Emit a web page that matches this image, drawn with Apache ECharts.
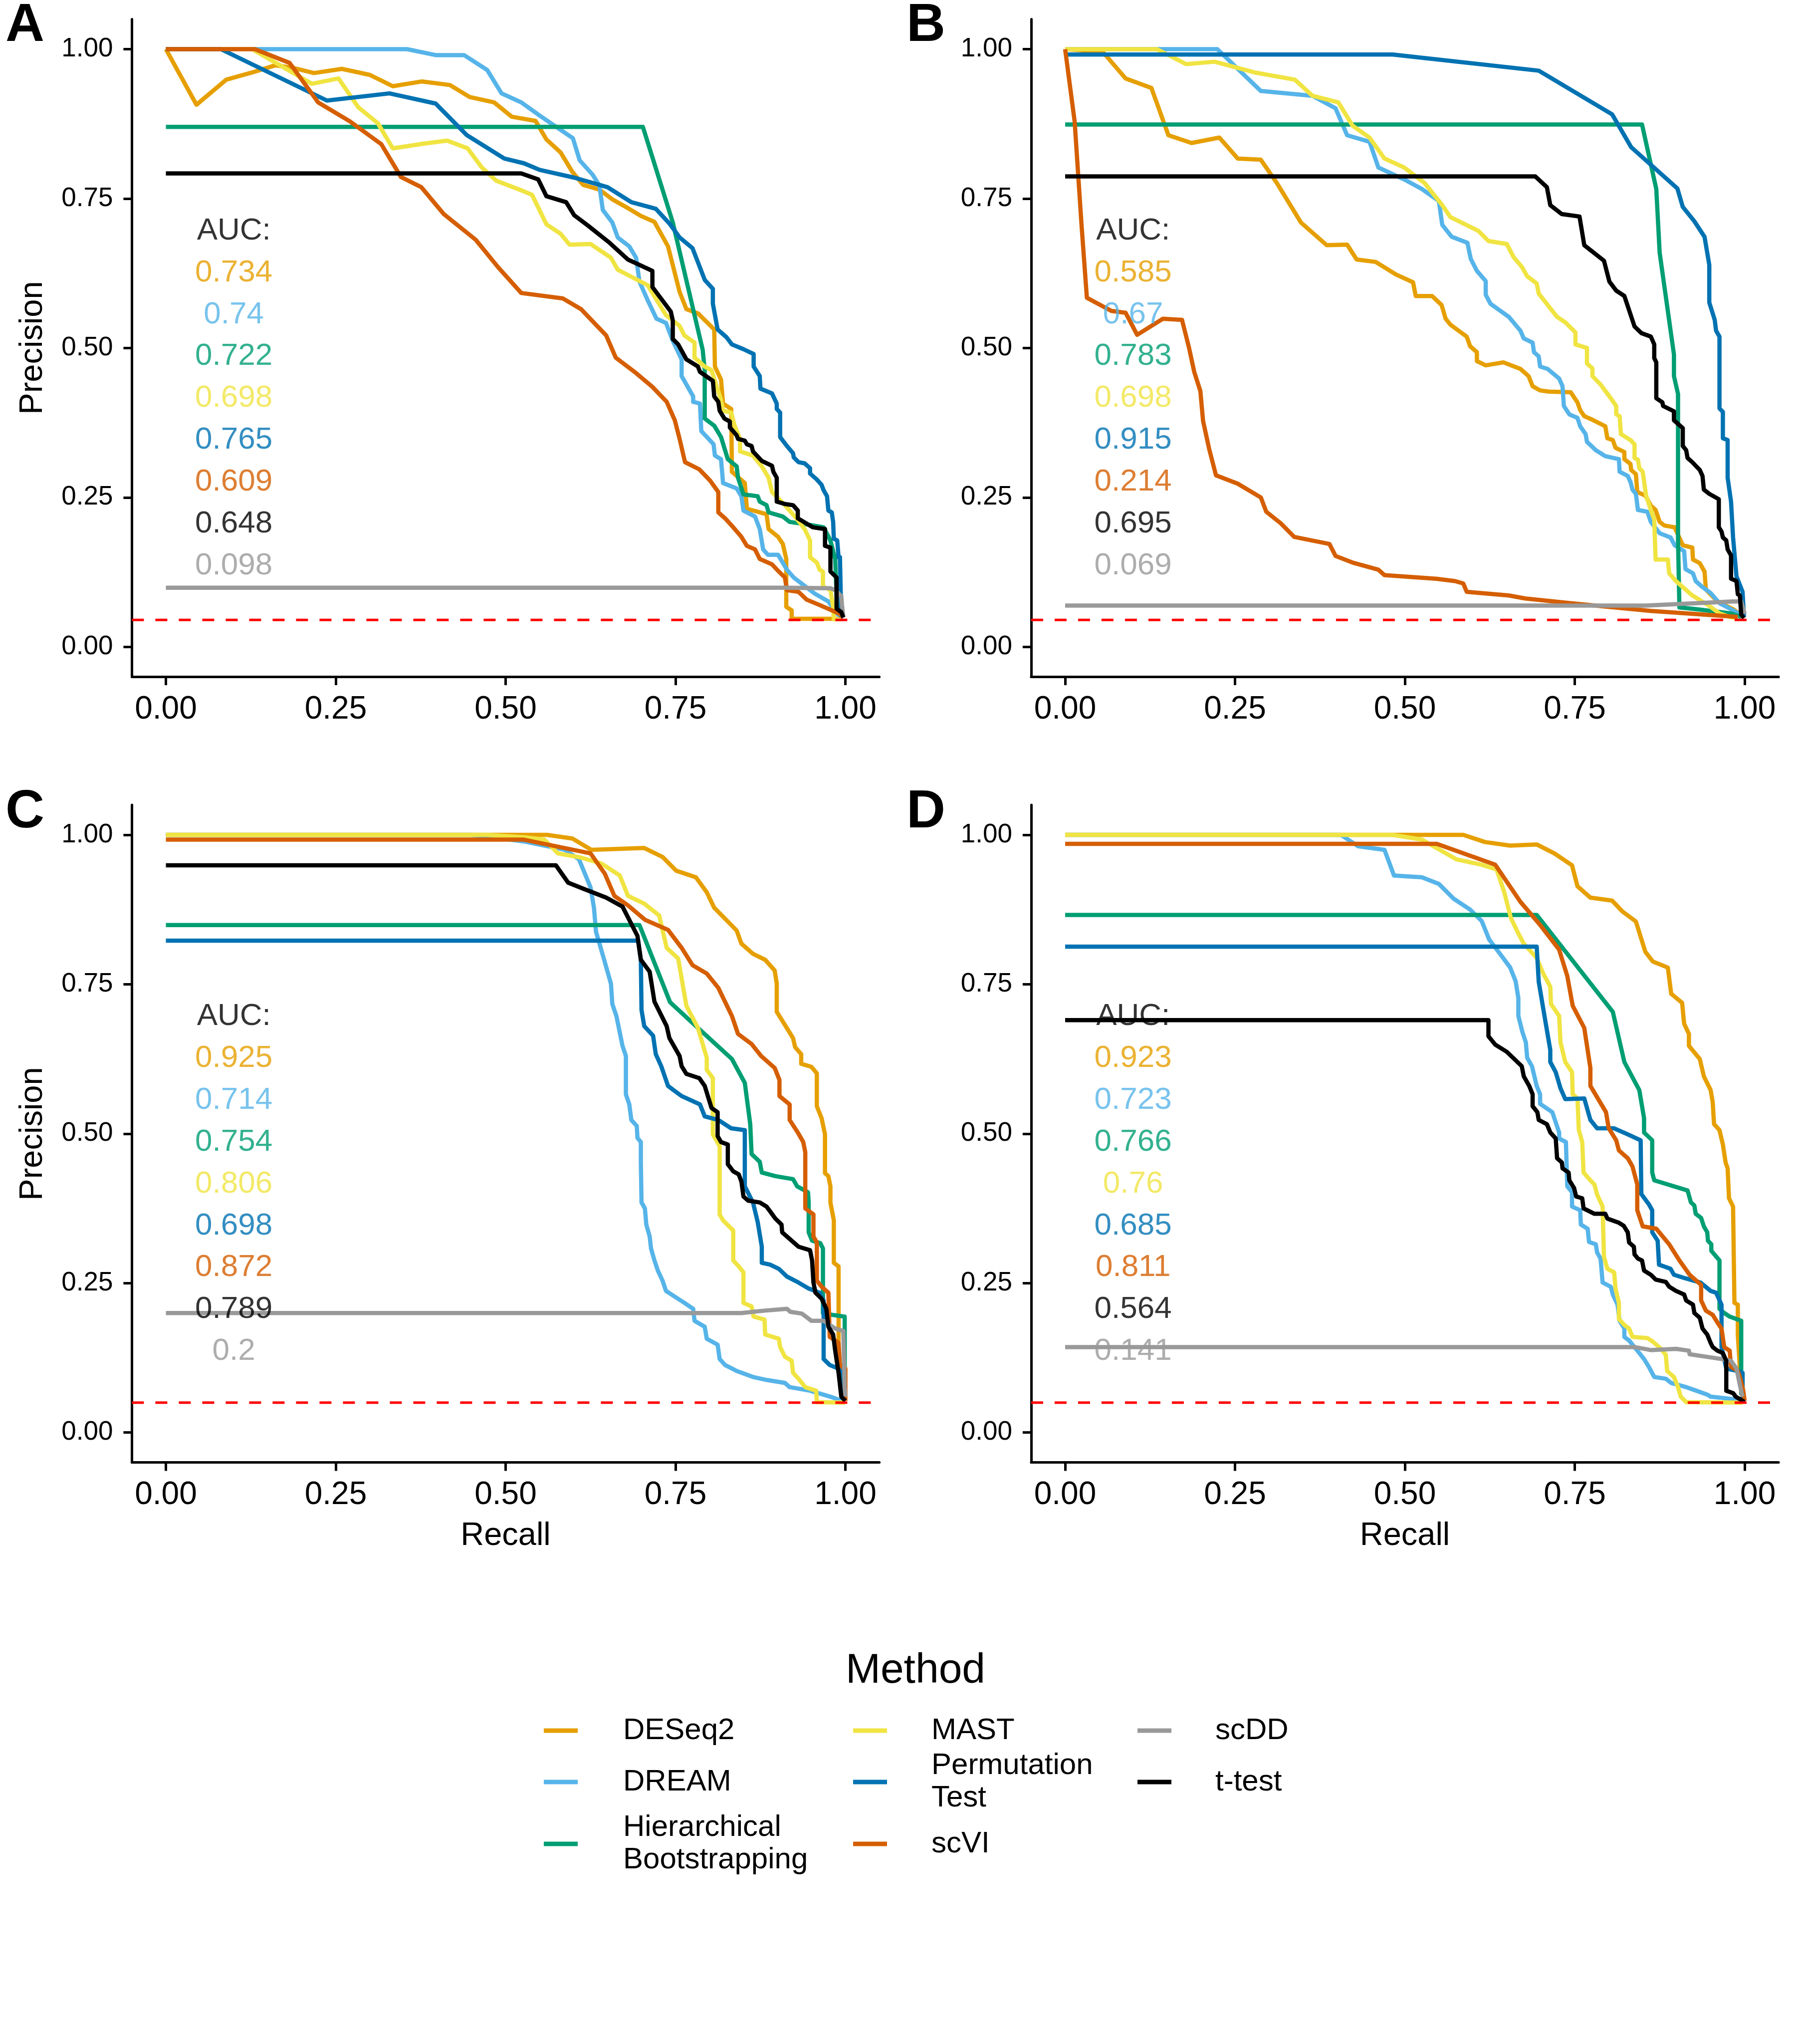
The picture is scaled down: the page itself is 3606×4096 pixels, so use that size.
<!DOCTYPE html>
<html>
<head>
<meta charset="utf-8">
<script src="https://cdn.jsdelivr.net/npm/echarts@6/dist/echarts.min.js"></script>
<style>
html,body{margin:0;padding:0;background:#fff;}
#chart{width:3606px;height:4096px;}
</style>
</head>
<body>
<div id="chart"></div>
<script>
// ---------------- DATA ----------------
const methods = ['DESeq2','DREAM','Hierarchical Bootstrapping','MAST','Permutation Test','scVI','scDD','t-test'];
const legendLabels = ['DESeq2','DREAM','Hierarchical\nBootstrapping','MAST','Permutation\nTest','scVI','scDD','t-test'];
const colors = ['#E69F00','#56B4E9','#009E73','#F0E442','#0072B2','#D55E00','#999999','#000000'];
const panelLetters = ['A','B','C','D'];
const tickValues = [0, 0.25, 0.5, 0.75, 1];
const baselineA = 0.045, baselineB = 0.045, baselineC = 0.05, baselineD = 0.05;

// AUC labels, listed in the order they are printed; aucMethod gives the method (colour) of each line
const aucMethod = [0, 1, 2, 3, 4, 5, 7, 6];
const aucA = ['0.734','0.74','0.722','0.698','0.765','0.609','0.648','0.098'];
const aucB = ['0.585','0.67','0.783','0.698','0.915','0.214','0.695','0.069'];
const aucC = ['0.925','0.714','0.754','0.806','0.698','0.872','0.789','0.2'];
const aucD = ['0.923','0.723','0.766','0.76','0.685','0.811','0.564','0.141'];

// Panel A
const A_DESeq2 = [[0,1],[0.045,0.907],[0.089,0.949],[0.127,0.961],[0.161,0.973],[0.186,0.969],[0.218,0.960],[0.259,0.967],[0.300,0.957],[0.334,0.938],[0.377,0.946],[0.418,0.940],[0.447,0.920],[0.483,0.911],[0.509,0.887],[0.544,0.880],[0.560,0.849],[0.581,0.827],[0.598,0.795],[0.614,0.773],[0.638,0.765],[0.658,0.748],[0.680,0.734],[0.699,0.721],[0.719,0.711],[0.739,0.670],[0.756,0.594],[0.766,0.565],[0.783,0.558],[0.807,0.531],[0.808,0.469],[0.817,0.447],[0.820,0.407],[0.832,0.398],[0.833,0.293],[0.852,0.274],[0.855,0.231],[0.884,0.222],[0.887,0.197],[0.901,0.184],[0.908,0.172],[0.913,0.147],[0.913,0.067],[0.921,0.061],[0.921,0.047],[0.988,0.047],[0.995,0.049]];
const A_DREAM = [[0,1],[0.355,1],[0.397,0.990],[0.439,0.990],[0.473,0.965],[0.494,0.926],[0.523,0.911],[0.550,0.889],[0.599,0.851],[0.609,0.814],[0.628,0.790],[0.638,0.772],[0.643,0.731],[0.657,0.710],[0.665,0.685],[0.682,0.670],[0.692,0.651],[0.697,0.611],[0.709,0.580],[0.722,0.549],[0.736,0.542],[0.746,0.512],[0.759,0.481],[0.759,0.453],[0.776,0.419],[0.776,0.410],[0.786,0.407],[0.788,0.361],[0.806,0.339],[0.808,0.320],[0.817,0.314],[0.820,0.274],[0.840,0.265],[0.847,0.252],[0.850,0.228],[0.867,0.218],[0.874,0.197],[0.879,0.163],[0.886,0.154],[0.901,0.154],[0.914,0.129],[0.924,0.116],[0.955,0.089],[0.975,0.076],[0.988,0.055],[0.997,0.049]];
const A_Hier = [[0,0.870],[0.702,0.870],[0.746,0.710],[0.790,0.497],[0.793,0.463],[0.793,0.382],[0.807,0.370],[0.817,0.351],[0.827,0.314],[0.840,0.302],[0.842,0.283],[0.850,0.255],[0.871,0.252],[0.874,0.243],[0.884,0.237],[0.887,0.225],[0.908,0.218],[0.918,0.209],[0.948,0.204],[0.968,0.200],[0.978,0.178],[0.985,0.147],[0.988,0.061],[0.997,0.052]];
const A_MAST = [[0,1],[0.127,1],[0.215,0.942],[0.254,0.951],[0.283,0.903],[0.312,0.876],[0.334,0.834],[0.380,0.842],[0.414,0.847],[0.444,0.834],[0.465,0.802],[0.486,0.780],[0.527,0.762],[0.539,0.756],[0.560,0.707],[0.581,0.691],[0.594,0.673],[0.625,0.674],[0.655,0.651],[0.665,0.631],[0.709,0.605],[0.736,0.555],[0.756,0.537],[0.763,0.521],[0.778,0.509],[0.778,0.484],[0.793,0.469],[0.803,0.463],[0.817,0.413],[0.820,0.395],[0.832,0.392],[0.837,0.370],[0.845,0.348],[0.845,0.327],[0.864,0.320],[0.877,0.302],[0.887,0.283],[0.892,0.259],[0.911,0.237],[0.928,0.215],[0.940,0.197],[0.948,0.178],[0.948,0.150],[0.958,0.141],[0.962,0.129],[0.967,0.126],[0.967,0.101],[0.978,0.095],[0.982,0.067],[0.983,0.046],[0.994,0.046]];
const A_Perm = [[0,1],[0.081,1],[0.237,0.914],[0.329,0.926],[0.397,0.909],[0.443,0.856],[0.498,0.817],[0.527,0.809],[0.550,0.798],[0.601,0.785],[0.650,0.769],[0.685,0.744],[0.721,0.733],[0.742,0.707],[0.756,0.685],[0.775,0.667],[0.793,0.614],[0.805,0.599],[0.805,0.574],[0.812,0.531],[0.825,0.518],[0.833,0.506],[0.850,0.498],[0.865,0.490],[0.865,0.469],[0.874,0.453],[0.875,0.432],[0.892,0.424],[0.899,0.407],[0.899,0.398],[0.904,0.392],[0.904,0.351],[0.914,0.336],[0.923,0.324],[0.924,0.317],[0.931,0.309],[0.940,0.307],[0.948,0.299],[0.948,0.290],[0.958,0.280],[0.965,0.271],[0.968,0.262],[0.973,0.252],[0.975,0.228],[0.980,0.225],[0.982,0.209],[0.983,0.181],[0.988,0.178],[0.990,0.150],[0.992,0.150],[0.994,0.049]];
const A_scVI = [[0,1],[0.131,1],[0.182,0.977],[0.224,0.911],[0.271,0.879],[0.317,0.841],[0.346,0.786],[0.376,0.769],[0.409,0.724],[0.456,0.681],[0.489,0.635],[0.523,0.592],[0.584,0.583],[0.611,0.565],[0.648,0.521],[0.662,0.484],[0.692,0.458],[0.716,0.435],[0.737,0.410],[0.749,0.379],[0.756,0.348],[0.764,0.309],[0.785,0.297],[0.801,0.278],[0.813,0.259],[0.813,0.225],[0.823,0.215],[0.835,0.200],[0.847,0.184],[0.855,0.169],[0.867,0.163],[0.874,0.147],[0.892,0.138],[0.902,0.126],[0.911,0.116],[0.914,0.095],[0.931,0.092],[0.943,0.079],[0.962,0.070],[0.978,0.062],[0.992,0.055],[0.997,0.049]];
const A_scDD = [[0,0.099],[0.91,0.099],[0.978,0.098],[0.985,0.095],[0.994,0.085],[0.995,0.07],[0.997,0.05]];
const A_ttest = [[0,0.792],[0.523,0.792],[0.548,0.782],[0.560,0.754],[0.589,0.744],[0.601,0.722],[0.621,0.705],[0.653,0.676],[0.680,0.648],[0.716,0.629],[0.716,0.602],[0.743,0.561],[0.746,0.546],[0.746,0.515],[0.754,0.506],[0.766,0.481],[0.783,0.469],[0.786,0.460],[0.805,0.445],[0.807,0.419],[0.813,0.410],[0.815,0.395],[0.822,0.382],[0.830,0.377],[0.830,0.367],[0.840,0.354],[0.842,0.348],[0.852,0.345],[0.855,0.339],[0.862,0.336],[0.864,0.327],[0.877,0.311],[0.892,0.303],[0.894,0.293],[0.899,0.283],[0.899,0.243],[0.911,0.239],[0.923,0.237],[0.930,0.228],[0.930,0.215],[0.952,0.200],[0.970,0.197],[0.970,0.169],[0.978,0.166],[0.978,0.126],[0.987,0.116],[0.987,0.064],[0.994,0.058],[0.997,0.049]];

// Panel B
const B_DESeq2 = [[0,1],[0.055,0.996],[0.089,0.951],[0.127,0.935],[0.152,0.856],[0.186,0.843],[0.227,0.852],[0.254,0.817],[0.288,0.815],[0.311,0.777],[0.347,0.710],[0.385,0.672],[0.415,0.673],[0.429,0.648],[0.457,0.644],[0.487,0.623],[0.512,0.610],[0.516,0.587],[0.540,0.587],[0.554,0.572],[0.560,0.549],[0.567,0.539],[0.591,0.519],[0.596,0.503],[0.606,0.493],[0.606,0.478],[0.619,0.471],[0.645,0.476],[0.670,0.465],[0.682,0.453],[0.688,0.436],[0.699,0.429],[0.712,0.427],[0.744,0.426],[0.754,0.409],[0.758,0.396],[0.764,0.386],[0.774,0.381],[0.795,0.369],[0.798,0.349],[0.806,0.346],[0.810,0.333],[0.823,0.326],[0.823,0.314],[0.832,0.306],[0.833,0.296],[0.840,0.289],[0.842,0.259],[0.854,0.253],[0.862,0.236],[0.869,0.229],[0.872,0.219],[0.875,0.209],[0.882,0.203],[0.897,0.200],[0.909,0.170],[0.923,0.166],[0.924,0.146],[0.934,0.140],[0.941,0.126],[0.943,0.096],[0.960,0.076],[0.983,0.063],[0.995,0.053]];
const B_DREAM = [[0,1],[0.224,1],[0.288,0.930],[0.364,0.922],[0.398,0.901],[0.415,0.856],[0.448,0.845],[0.461,0.802],[0.499,0.782],[0.525,0.766],[0.550,0.746],[0.555,0.706],[0.569,0.686],[0.592,0.676],[0.597,0.649],[0.606,0.629],[0.619,0.612],[0.619,0.589],[0.626,0.574],[0.653,0.552],[0.670,0.529],[0.675,0.516],[0.688,0.509],[0.690,0.493],[0.697,0.486],[0.699,0.469],[0.710,0.465],[0.727,0.449],[0.732,0.436],[0.734,0.403],[0.742,0.389],[0.754,0.383],[0.758,0.369],[0.766,0.356],[0.768,0.343],[0.781,0.329],[0.795,0.319],[0.815,0.314],[0.816,0.293],[0.828,0.286],[0.832,0.276],[0.835,0.263],[0.840,0.256],[0.843,0.229],[0.857,0.226],[0.862,0.209],[0.875,0.190],[0.891,0.183],[0.897,0.170],[0.911,0.160],[0.913,0.130],[0.924,0.123],[0.928,0.110],[0.938,0.100],[0.950,0.090],[0.963,0.073],[0.980,0.063],[0.995,0.053]];
const B_Hier = [[0,0.874],[0.849,0.874],[0.870,0.766],[0.875,0.659],[0.896,0.489],[0.896,0.453],[0.902,0.423],[0.902,0.179],[0.904,0.066],[0.929,0.063],[0.980,0.056],[0.995,0.050]];
const B_MAST = [[0,1],[0.135,1],[0.178,0.975],[0.220,0.979],[0.279,0.961],[0.338,0.949],[0.364,0.922],[0.402,0.911],[0.423,0.872],[0.448,0.852],[0.470,0.817],[0.499,0.802],[0.529,0.776],[0.555,0.739],[0.567,0.719],[0.608,0.696],[0.623,0.679],[0.650,0.674],[0.660,0.652],[0.672,0.636],[0.680,0.620],[0.694,0.608],[0.697,0.591],[0.724,0.552],[0.736,0.543],[0.751,0.526],[0.751,0.506],[0.768,0.500],[0.768,0.474],[0.776,0.466],[0.776,0.453],[0.788,0.439],[0.801,0.419],[0.811,0.403],[0.811,0.389],[0.816,0.386],[0.818,0.356],[0.832,0.346],[0.838,0.339],[0.838,0.316],[0.843,0.313],[0.845,0.299],[0.850,0.293],[0.855,0.253],[0.862,0.229],[0.867,0.213],[0.869,0.146],[0.887,0.146],[0.889,0.123],[0.899,0.110],[0.909,0.100],[0.923,0.086],[0.946,0.070],[0.963,0.056],[0.978,0.050],[0.990,0.048]];
const B_Perm = [[0,0.991],[0.482,0.991],[0.697,0.964],[0.805,0.891],[0.833,0.836],[0.901,0.767],[0.909,0.736],[0.926,0.712],[0.941,0.686],[0.948,0.639],[0.948,0.576],[0.956,0.547],[0.958,0.529],[0.963,0.519],[0.963,0.399],[0.968,0.393],[0.968,0.349],[0.975,0.346],[0.975,0.283],[0.980,0.243],[0.983,0.183],[0.988,0.118],[0.997,0.092],[0.999,0.050]];
const B_scVI = [[0,1],[0.014,0.879],[0.024,0.708],[0.032,0.584],[0.068,0.562],[0.089,0.559],[0.106,0.522],[0.144,0.549],[0.172,0.547],[0.182,0.502],[0.190,0.460],[0.199,0.428],[0.203,0.378],[0.212,0.331],[0.222,0.287],[0.254,0.273],[0.288,0.250],[0.296,0.226],[0.317,0.207],[0.337,0.184],[0.389,0.172],[0.398,0.152],[0.423,0.141],[0.461,0.129],[0.470,0.120],[0.546,0.114],[0.574,0.110],[0.586,0.106],[0.591,0.092],[0.653,0.086],[0.677,0.081],[0.744,0.073],[0.862,0.060],[0.990,0.050]];
const B_scDD = [[0,0.069],[0.855,0.069],[0.983,0.076],[0.995,0.076],[1.0,0.055]];
const B_ttest = [[0,0.787],[0.692,0.787],[0.709,0.769],[0.714,0.739],[0.731,0.724],[0.757,0.720],[0.764,0.672],[0.793,0.646],[0.801,0.611],[0.811,0.596],[0.823,0.587],[0.838,0.536],[0.848,0.525],[0.862,0.519],[0.867,0.506],[0.867,0.483],[0.870,0.476],[0.870,0.416],[0.879,0.409],[0.880,0.403],[0.896,0.394],[0.896,0.379],[0.909,0.366],[0.909,0.336],[0.914,0.329],[0.916,0.316],[0.923,0.309],[0.928,0.303],[0.934,0.296],[0.938,0.286],[0.940,0.263],[0.948,0.256],[0.962,0.247],[0.962,0.200],[0.966,0.193],[0.968,0.183],[0.973,0.178],[0.975,0.163],[0.980,0.153],[0.980,0.114],[0.988,0.110],[0.990,0.088],[0.993,0.086],[0.995,0.054],[0.999,0.048]];

// Panel C
const C_DESeq2 = [[0,1],[0.561,1],[0.598,0.994],[0.626,0.975],[0.704,0.978],[0.731,0.963],[0.751,0.940],[0.780,0.929],[0.796,0.904],[0.807,0.878],[0.840,0.840],[0.847,0.818],[0.864,0.801],[0.882,0.791],[0.896,0.773],[0.899,0.751],[0.899,0.704],[0.923,0.660],[0.926,0.645],[0.935,0.633],[0.935,0.617],[0.950,0.612],[0.958,0.601],[0.958,0.546],[0.965,0.526],[0.970,0.499],[0.970,0.434],[0.975,0.429],[0.978,0.412],[0.978,0.385],[0.983,0.355],[0.983,0.284],[0.990,0.278],[0.990,0.130],[0.997,0.070],[0.999,0.053]];
const C_DREAM = [[0,1],[0.45,1],[0.50,0.993],[0.527,0.989],[0.587,0.975],[0.608,0.959],[0.625,0.912],[0.630,0.878],[0.633,0.838],[0.645,0.791],[0.655,0.751],[0.657,0.717],[0.663,0.697],[0.672,0.647],[0.677,0.630],[0.677,0.566],[0.682,0.549],[0.685,0.523],[0.693,0.513],[0.694,0.493],[0.699,0.486],[0.699,0.452],[0.700,0.385],[0.705,0.375],[0.707,0.348],[0.712,0.328],[0.714,0.308],[0.719,0.288],[0.724,0.271],[0.731,0.254],[0.736,0.237],[0.744,0.231],[0.763,0.217],[0.776,0.207],[0.778,0.187],[0.793,0.177],[0.796,0.157],[0.812,0.147],[0.815,0.123],[0.823,0.113],[0.840,0.103],[0.864,0.093],[0.884,0.088],[0.911,0.083],[0.918,0.076],[0.948,0.070],[0.978,0.060],[0.995,0.053]];
const C_Hier = [[0,0.849],[0.697,0.849],[0.742,0.720],[0.783,0.677],[0.833,0.625],[0.852,0.585],[0.860,0.516],[0.862,0.466],[0.874,0.453],[0.877,0.435],[0.897,0.429],[0.923,0.424],[0.929,0.412],[0.945,0.402],[0.946,0.385],[0.946,0.335],[0.951,0.321],[0.963,0.317],[0.967,0.308],[0.967,0.200],[0.980,0.197],[0.999,0.194],[0.999,0.056]];
const C_MAST = [[0,1],[0.473,1],[0.527,0.996],[0.557,0.992],[0.577,0.969],[0.611,0.962],[0.641,0.952],[0.668,0.932],[0.680,0.898],[0.704,0.885],[0.726,0.865],[0.737,0.811],[0.754,0.793],[0.766,0.714],[0.783,0.677],[0.796,0.627],[0.796,0.607],[0.805,0.593],[0.805,0.499],[0.815,0.479],[0.815,0.365],[0.820,0.355],[0.835,0.338],[0.835,0.288],[0.843,0.278],[0.850,0.268],[0.850,0.217],[0.862,0.211],[0.865,0.194],[0.881,0.189],[0.882,0.164],[0.902,0.157],[0.904,0.143],[0.911,0.127],[0.921,0.120],[0.923,0.100],[0.931,0.090],[0.941,0.076],[0.957,0.070],[0.958,0.051],[0.999,0.050]];
const C_Perm = [[0,0.823],[0.695,0.823],[0.699,0.791],[0.700,0.707],[0.704,0.680],[0.717,0.664],[0.721,0.633],[0.729,0.613],[0.739,0.580],[0.747,0.573],[0.759,0.563],[0.786,0.549],[0.793,0.529],[0.813,0.523],[0.832,0.509],[0.852,0.506],[0.852,0.412],[0.864,0.385],[0.871,0.352],[0.877,0.311],[0.877,0.284],[0.889,0.281],[0.902,0.274],[0.914,0.261],[0.931,0.251],[0.946,0.241],[0.962,0.234],[0.968,0.221],[0.968,0.123],[0.977,0.113],[0.990,0.107],[0.997,0.097],[0.997,0.056]];
const C_scVI = [[0,0.992],[0.527,0.992],[0.565,0.983],[0.625,0.969],[0.646,0.935],[0.660,0.898],[0.680,0.882],[0.705,0.858],[0.739,0.841],[0.759,0.811],[0.775,0.782],[0.796,0.768],[0.813,0.744],[0.833,0.697],[0.842,0.667],[0.862,0.650],[0.876,0.630],[0.896,0.610],[0.903,0.590],[0.903,0.563],[0.918,0.549],[0.918,0.523],[0.930,0.502],[0.938,0.486],[0.941,0.469],[0.941,0.375],[0.953,0.365],[0.953,0.328],[0.958,0.318],[0.958,0.254],[0.965,0.244],[0.975,0.234],[0.977,0.160],[0.990,0.150],[0.992,0.113],[1.0,0.107],[1.0,0.053]];
const C_scDD = [[0,0.200],[0.847,0.200],[0.881,0.204],[0.914,0.207],[0.919,0.202],[0.936,0.199],[0.950,0.187],[0.968,0.187],[0.985,0.174],[0.997,0.170],[0.999,0.076],[1.0,0.06]];
const C_ttest = [[0,0.949],[0.574,0.949],[0.592,0.920],[0.614,0.910],[0.648,0.895],[0.672,0.880],[0.694,0.831],[0.699,0.791],[0.712,0.771],[0.719,0.721],[0.737,0.680],[0.741,0.660],[0.756,0.630],[0.759,0.613],[0.766,0.600],[0.785,0.593],[0.793,0.580],[0.803,0.543],[0.812,0.536],[0.812,0.496],[0.817,0.486],[0.827,0.482],[0.827,0.449],[0.835,0.437],[0.843,0.432],[0.847,0.420],[0.850,0.395],[0.857,0.388],[0.874,0.385],[0.884,0.378],[0.888,0.372],[0.897,0.358],[0.906,0.348],[0.907,0.335],[0.921,0.321],[0.931,0.311],[0.948,0.305],[0.951,0.288],[0.953,0.251],[0.956,0.234],[0.965,0.224],[0.972,0.207],[0.975,0.177],[0.982,0.164],[0.985,0.137],[0.990,0.100],[0.994,0.060],[1.0,0.053]];

// Panel D
const D_DESeq2 = [[0,1],[0.586,1],[0.618,0.988],[0.655,0.982],[0.694,0.984],[0.720,0.969],[0.746,0.949],[0.754,0.914],[0.773,0.895],[0.805,0.890],[0.820,0.872],[0.840,0.855],[0.854,0.804],[0.865,0.788],[0.887,0.778],[0.892,0.734],[0.908,0.719],[0.911,0.684],[0.918,0.667],[0.918,0.647],[0.934,0.625],[0.940,0.596],[0.950,0.573],[0.953,0.553],[0.955,0.516],[0.963,0.506],[0.968,0.482],[0.972,0.452],[0.975,0.442],[0.977,0.392],[0.983,0.378],[0.985,0.217],[0.990,0.214],[0.990,0.164],[0.995,0.070],[0.998,0.053]];
const D_DREAM = [[0,1],[0.406,1],[0.431,0.981],[0.470,0.975],[0.484,0.932],[0.525,0.929],[0.550,0.918],[0.572,0.893],[0.596,0.875],[0.613,0.856],[0.624,0.825],[0.638,0.804],[0.655,0.778],[0.663,0.755],[0.667,0.727],[0.667,0.697],[0.673,0.670],[0.678,0.653],[0.680,0.627],[0.687,0.613],[0.694,0.580],[0.699,0.566],[0.699,0.550],[0.717,0.536],[0.727,0.502],[0.727,0.492],[0.737,0.486],[0.739,0.412],[0.746,0.402],[0.746,0.378],[0.758,0.372],[0.759,0.348],[0.769,0.341],[0.771,0.319],[0.781,0.315],[0.783,0.301],[0.788,0.291],[0.791,0.251],[0.803,0.244],[0.806,0.231],[0.813,0.214],[0.816,0.187],[0.823,0.174],[0.823,0.160],[0.830,0.154],[0.845,0.133],[0.852,0.123],[0.859,0.110],[0.867,0.093],[0.884,0.090],[0.892,0.083],[0.914,0.076],[0.929,0.070],[0.946,0.063],[0.950,0.060],[0.983,0.056],[0.997,0.053]];
const D_Hier = [[0,0.866],[0.694,0.866],[0.806,0.704],[0.823,0.620],[0.845,0.573],[0.852,0.526],[0.852,0.502],[0.864,0.489],[0.864,0.435],[0.867,0.422],[0.916,0.405],[0.921,0.385],[0.926,0.380],[0.928,0.366],[0.936,0.359],[0.940,0.345],[0.945,0.335],[0.946,0.321],[0.951,0.315],[0.951,0.304],[0.963,0.288],[0.963,0.207],[0.970,0.200],[0.978,0.194],[0.995,0.187],[0.995,0.063]];
const D_MAST = [[0,1],[0.482,1],[0.525,0.992],[0.576,0.959],[0.613,0.950],[0.635,0.942],[0.646,0.905],[0.656,0.861],[0.667,0.835],[0.675,0.818],[0.694,0.794],[0.704,0.767],[0.714,0.746],[0.715,0.717],[0.727,0.697],[0.729,0.653],[0.736,0.620],[0.746,0.603],[0.747,0.566],[0.754,0.559],[0.756,0.506],[0.761,0.486],[0.763,0.435],[0.773,0.422],[0.779,0.415],[0.783,0.398],[0.791,0.378],[0.793,0.294],[0.798,0.274],[0.808,0.268],[0.810,0.241],[0.815,0.217],[0.815,0.190],[0.823,0.180],[0.830,0.174],[0.835,0.160],[0.857,0.158],[0.865,0.152],[0.877,0.140],[0.884,0.130],[0.886,0.103],[0.896,0.093],[0.902,0.076],[0.906,0.060],[0.914,0.051],[0.997,0.050]];
const D_Perm = [[0,0.813],[0.694,0.813],[0.697,0.754],[0.705,0.700],[0.714,0.640],[0.714,0.620],[0.722,0.603],[0.729,0.576],[0.736,0.558],[0.764,0.559],[0.773,0.523],[0.783,0.509],[0.808,0.509],[0.828,0.499],[0.847,0.489],[0.848,0.399],[0.859,0.382],[0.864,0.372],[0.864,0.335],[0.872,0.321],[0.874,0.281],[0.891,0.274],[0.896,0.264],[0.913,0.258],[0.935,0.251],[0.950,0.237],[0.958,0.234],[0.966,0.214],[0.966,0.143],[0.973,0.107],[0.990,0.103],[0.997,0.100],[0.997,0.056]];
const D_scVI = [[0,0.985],[0.547,0.985],[0.633,0.950],[0.670,0.888],[0.700,0.848],[0.727,0.808],[0.739,0.764],[0.747,0.714],[0.764,0.677],[0.773,0.610],[0.773,0.580],[0.796,0.536],[0.800,0.509],[0.811,0.489],[0.815,0.472],[0.828,0.459],[0.835,0.445],[0.842,0.415],[0.842,0.372],[0.850,0.345],[0.870,0.341],[0.889,0.315],[0.904,0.288],[0.919,0.264],[0.936,0.247],[0.936,0.221],[0.943,0.204],[0.953,0.197],[0.960,0.184],[0.966,0.174],[0.970,0.143],[0.978,0.137],[0.980,0.110],[0.990,0.103],[0.993,0.093],[0.998,0.070],[1.0,0.053]];
const D_scDD = [[0,0.143],[0.838,0.143],[0.862,0.138],[0.899,0.140],[0.918,0.137],[0.919,0.131],[0.943,0.127],[0.966,0.123],[0.980,0.120],[0.988,0.107],[0.993,0.080],[0.997,0.060]];
const D_ttest = [[0,0.690],[0.623,0.690],[0.623,0.663],[0.633,0.649],[0.650,0.637],[0.672,0.613],[0.675,0.596],[0.683,0.580],[0.688,0.566],[0.688,0.546],[0.695,0.536],[0.697,0.523],[0.709,0.516],[0.714,0.502],[0.722,0.492],[0.724,0.459],[0.731,0.452],[0.732,0.442],[0.741,0.435],[0.742,0.422],[0.749,0.409],[0.752,0.395],[0.761,0.392],[0.763,0.375],[0.779,0.366],[0.795,0.366],[0.798,0.358],[0.815,0.351],[0.822,0.346],[0.828,0.335],[0.830,0.318],[0.837,0.311],[0.838,0.298],[0.843,0.291],[0.849,0.288],[0.852,0.271],[0.862,0.264],[0.869,0.256],[0.884,0.252],[0.889,0.244],[0.899,0.237],[0.911,0.231],[0.914,0.221],[0.924,0.214],[0.926,0.200],[0.934,0.192],[0.938,0.174],[0.945,0.164],[0.950,0.150],[0.953,0.143],[0.960,0.137],[0.968,0.133],[0.973,0.120],[0.973,0.070],[0.983,0.066],[0.987,0.060],[0.997,0.053],[1.0,0.051]];

// ---------------- LAYOUT ----------------
const FONT = '"Liberation Sans", Arial, Helvetica, sans-serif';
const panels = [
  {curves:[A_DESeq2,A_DREAM,A_Hier,A_MAST,A_Perm,A_scVI,A_scDD,A_ttest], auc:aucA, base:baselineA},
  {curves:[B_DESeq2,B_DREAM,B_Hier,B_MAST,B_Perm,B_scVI,B_scDD,B_ttest], auc:aucB, base:baselineB},
  {curves:[C_DESeq2,C_DREAM,C_Hier,C_MAST,C_Perm,C_scVI,C_scDD,C_ttest], auc:aucC, base:baselineC},
  {curves:[D_DESeq2,D_DREAM,D_Hier,D_MAST,D_Perm,D_scVI,D_scDD,D_ttest], auc:aucD, base:baselineD}
];
const gridLeft = [264.4, 2066.9, 264.4, 2066.9];
const gridTop = [38.6, 38.6, 1613.1, 1613.1];
const gridW = 1498.2, gridH = 1317.5;
const AXIS_MIN = -0.05, AXIS_MAX = 1.05;
const AUC_X = 0.1, AUC_Y0 = 0.7, AUC_STEP = 0.07;

const grids = [], xAxes = [], yAxes = [], series = [];
panels.forEach((p, i) => {
  grids.push({left: gridLeft[i], top: gridTop[i], width: gridW, height: gridH, containLabel: false});
  xAxes.push({
    type: 'value', gridIndex: i, min: AXIS_MIN, max: AXIS_MAX,
    axisLine: {show: true, onZero: false, lineStyle: {color: '#000', width: 5}},
    axisTick: {show: true, length: 17, customValues: tickValues, lineStyle: {color: '#000', width: 5}},
    axisLabel: {show: true, customValues: tickValues, formatter: v => Number(v).toFixed(2),
      fontSize: 64, color: '#000', fontFamily: FONT, margin: 34},
    splitLine: {show: false}
  });
  yAxes.push({
    type: 'value', gridIndex: i, min: AXIS_MIN, max: AXIS_MAX,
    axisLine: {show: true, onZero: false, lineStyle: {color: '#000', width: 5}},
    axisTick: {show: true, length: 17, customValues: tickValues, lineStyle: {color: '#000', width: 5}},
    axisLabel: {show: true, customValues: tickValues, formatter: v => Number(v).toFixed(2),
      fontSize: 53, color: '#000', fontFamily: FONT, margin: 38},
    splitLine: {show: false}
  });
  p.curves.forEach((c, k) => {
    series.push({
      type: 'line', name: methods[k], xAxisIndex: i, yAxisIndex: i,
      data: c, showSymbol: false, symbol: 'none', smooth: false, silent: true,
      lineStyle: {color: colors[k], width: 8.5, join: 'round', cap: 'butt'},
      itemStyle: {color: colors[k]}, z: 2 + k * 0.01
    });
  });
  // dashed baseline (proportion of true DE genes), drawn across the full x range
  series.push({
    type: 'line', name: 'baseline', xAxisIndex: i, yAxisIndex: i,
    data: [[AXIS_MIN, p.base], [AXIS_MAX, p.base]], showSymbol: false, symbol: 'none', silent: true,
    lineStyle: {color: '#FF0000', type: [24, 23], width: 5}, z: 3
  });
  const labels = [{value: [AUC_X, AUC_Y0], label: {formatter: 'AUC:', color: '#000'}}];
  p.auc.forEach((a, k) => {
    labels.push({value: [AUC_X, AUC_Y0 - AUC_STEP * (k + 1)], label: {formatter: a, color: colors[aucMethod[k]]}});
  });
  series.push({
    type: 'scatter', xAxisIndex: i, yAxisIndex: i, data: labels, symbolSize: 1, silent: true,
    itemStyle: {color: 'rgba(0,0,0,0)'}, z: 5,
    label: {show: true, position: 'inside', offset: [0, 5], fontSize: 62, fontFamily: FONT}
  });
});

// Graphic: panel letters, axis titles, legend
const graphic = [];
const letterPos = [[11, 52], [1817, 52], [11, 1628], [1817, 1628]];
panelLetters.forEach((L, i) => {
  graphic.push({type: 'text', x: letterPos[i][0], y: letterPos[i][1], silent: true,
    style: {text: L, font: 'bold 108px ' + FONT, fill: '#000', align: 'left', verticalAlign: 'middle',
      textAlign: 'left', textVerticalAlign: 'middle'}});
});
[697, 2272].forEach(cy => {
  graphic.push({type: 'text', x: 66, y: cy, rotation: Math.PI / 2, silent: true,
    style: {text: 'Precision', font: '65px ' + FONT, fill: '#000', align: 'center', verticalAlign: 'middle',
      textAlign: 'center', textVerticalAlign: 'middle'}});
});
[1013.5, 2816].forEach(cx => {
  graphic.push({type: 'text', x: cx, y: 3078, silent: true,
    style: {text: 'Recall', font: '65px ' + FONT, fill: '#000', align: 'center', verticalAlign: 'middle',
      textAlign: 'center', textVerticalAlign: 'middle'}});
});
graphic.push({type: 'text', x: 1835, y: 3349, silent: true,
  style: {text: 'Method', font: '84px ' + FONT, fill: '#000', align: 'center', verticalAlign: 'middle',
    textAlign: 'center', textVerticalAlign: 'middle'}});
const legendCol = [0, 0, 0, 1, 1, 1, 2, 2];
const legendRow = [0, 1, 2, 0, 1, 2, 0, 1];
const keyX = [1090, 1710, 2280];
const textX = [1249, 1867, 2436];
const rowY = [3468, 3571, 3695];
methods.forEach((m, k) => {
  const cx = legendCol[k], ry = rowY[legendRow[k]];
  graphic.push({type: 'line', silent: true,
    shape: {x1: keyX[cx], y1: ry, x2: keyX[cx] + 68, y2: ry},
    style: {stroke: colors[k], lineWidth: 9}});
  graphic.push({type: 'text', x: textX[cx], y: ry, silent: true,
    style: {text: legendLabels[k], font: '60px ' + FONT, fill: '#000', lineHeight: 65,
      align: 'left', verticalAlign: 'middle', textAlign: 'left', textVerticalAlign: 'middle'}});
});

const chart = echarts.init(document.getElementById('chart'), null, {renderer: 'canvas', width: 3606, height: 4096});
chart.setOption({
  backgroundColor: '#ffffff',
  animation: false,
  grid: grids, xAxis: xAxes, yAxis: yAxes, series: series, graphic: graphic
});
</script>
</body>
</html>
